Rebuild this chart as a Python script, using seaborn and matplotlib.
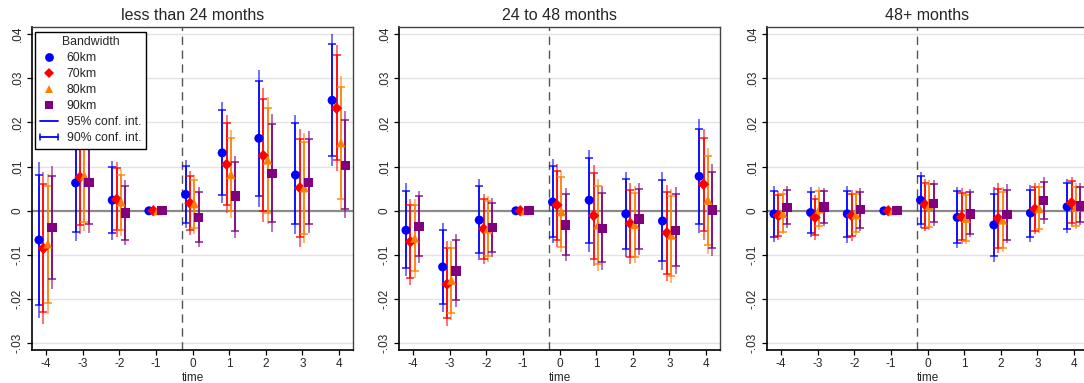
import numpy as np
import pandas as pd
import matplotlib
matplotlib.use("Agg")
import matplotlib.pyplot as plt
import seaborn as sns
from matplotlib.lines import Line2D
from matplotlib.legend_handler import HandlerBase

# ---------------- data ----------------
times = [-4, -3, -2, -1, 0, 1, 2, 3, 4]
bandwidths = ["60km", "70km", "80km", "90km"]
panel_titles = ["less than 24 months", "24 to 48 months", "48+ months"]
ytick_vals = [-0.03, -0.02, -0.01, 0.0, 0.01, 0.02, 0.03, 0.04]

# Panel 1: less than 24 months  (rows: 60km, 70km, 80km, 90km)
lt24_est = [
    [-0.0066, 0.0063, 0.0024, 0, 0.0037, 0.0131, 0.0164, 0.0081, 0.0250],
    [-0.0085, 0.0076, 0.0026, 0, 0.0017, 0.0105, 0.0125, 0.0052, 0.0232],
    [-0.0075, 0.0079, 0.0020, 0, 0.0016, 0.0082, 0.0115, 0.0052, 0.0154],
    [-0.0038, 0.0064, -0.0005, 0, -0.0015, 0.0033, 0.0085, 0.0064, 0.0102],
]
lt24_hi95 = [
    [0.0111, 0.0195, 0.0112, 0, 0.0115, 0.0246, 0.0318, 0.0217, 0.0401],
    [0.0087, 0.0205, 0.0110, 0, 0.0089, 0.0217, 0.0277, 0.0184, 0.0375],
    [0.0083, 0.0204, 0.0094, 0, 0.0081, 0.0182, 0.0257, 0.0175, 0.0305],
    [0.0102, 0.0179, 0.0069, 0, 0.0054, 0.0125, 0.0218, 0.0180, 0.0226],
]
lt24_lo95 = [
    [-0.0243, -0.0069, -0.0065, 0, -0.0040, 0.0017, 0.0009, -0.0053, 0.0101],
    [-0.0256, -0.0053, -0.0059, 0, -0.0055, -0.0005, -0.0025, -0.0081, 0.0090],
    [-0.0234, -0.0046, -0.0057, 0, -0.0052, -0.0017, -0.0029, -0.0074, 0.0002],
    [-0.0178, -0.0051, -0.0078, 0, -0.0081, -0.0061, -0.0047, -0.0050, -0.0017],
]
lt24_hi90 = [
    [0.0082, 0.0174, 0.0098, 0, 0.0102, 0.0227, 0.0293, 0.0198, 0.0377],
    [0.0060, 0.0184, 0.0097, 0, 0.0079, 0.0198, 0.0253, 0.0163, 0.0352],
    [0.0057, 0.0183, 0.0082, 0, 0.0069, 0.0165, 0.0232, 0.0155, 0.0281],
    [0.0079, 0.0159, 0.0057, 0, 0.0042, 0.0110, 0.0197, 0.0162, 0.0205],
]
lt24_lo90 = [
    [-0.0214, -0.0048, -0.0050, 0, -0.0027, 0.0036, 0.0034, -0.0031, 0.0124],
    [-0.0228, -0.0032, -0.0044, 0, -0.0044, 0.0014, -0.0001, -0.0060, 0.0114],
    [-0.0208, -0.0025, -0.0044, 0, -0.0040, 0.0000, -0.0006, -0.0053, 0.0026],
    [-0.0155, -0.0031, -0.0066, 0, -0.0071, -0.0045, -0.0026, -0.0031, 0.0003],
]

# Panel 2: 24 to 48 months
m2448_est = [
    [-0.0044, -0.0127, -0.0021, 0, 0.0020, 0.0024, -0.0007, -0.0023, 0.0078],
    [-0.0070, -0.0166, -0.0041, 0, 0.0013, -0.0011, -0.0029, -0.0050, 0.0060],
    [-0.0062, -0.0157, -0.0041, 0, -0.0002, -0.0032, -0.0031, -0.0055, 0.0024],
    [-0.0035, -0.0136, -0.0038, 0, -0.0032, -0.0040, -0.0019, -0.0045, 0.0002],
]
m2448_hi95 = [
    [0.0062, -0.0027, 0.0071, 0, 0.0117, 0.0137, 0.0088, 0.0088, 0.0207],
    [0.0027, -0.0069, 0.0039, 0, 0.0105, 0.0103, 0.0063, 0.0058, 0.0185],
    [0.0026, -0.0069, 0.0034, 0, 0.0090, 0.0073, 0.0056, 0.0050, 0.0143],
    [0.0045, -0.0053, 0.0028, 0, 0.0051, 0.0057, 0.0063, 0.0054, 0.0105],
]
m2448_lo95 = [
    [-0.0148, -0.0228, -0.0112, 0, -0.0074, -0.0093, -0.0104, -0.0133, -0.0050],
    [-0.0168, -0.0260, -0.0121, 0, -0.0081, -0.0125, -0.0121, -0.0159, -0.0066],
    [-0.0151, -0.0247, -0.0116, 0, -0.0093, -0.0136, -0.0118, -0.0164, -0.0098],
    [-0.0118, -0.0217, -0.0105, 0, -0.0114, -0.0133, -0.0100, -0.0142, -0.0102],
]
m2448_hi90 = [
    [0.0045, -0.0044, 0.0056, 0, 0.0102, 0.0120, 0.0073, 0.0069, 0.0185],
    [0.0012, -0.0085, 0.0026, 0, 0.0090, 0.0085, 0.0048, 0.0042, 0.0165],
    [0.0013, -0.0085, 0.0022, 0, 0.0076, 0.0057, 0.0041, 0.0034, 0.0124],
    [0.0033, -0.0065, 0.0018, 0, 0.0038, 0.0041, 0.0049, 0.0038, 0.0088],
]
m2448_lo90 = [
    [-0.0130, -0.0211, -0.0096, 0, -0.0060, -0.0074, -0.0087, -0.0114, -0.0029],
    [-0.0151, -0.0243, -0.0108, 0, -0.0065, -0.0108, -0.0105, -0.0142, -0.0046],
    [-0.0136, -0.0232, -0.0102, 0, -0.0081, -0.0121, -0.0105, -0.0147, -0.0078],
    [-0.0103, -0.0202, -0.0093, 0, -0.0100, -0.0117, -0.0087, -0.0125, -0.0085],
]

# Panel 3: 48+ months
m48_est = [
    [-0.0007, -0.0004, -0.0007, 0, 0.0024, -0.0015, -0.0032, -0.0005, 0.0009],
    [-0.0011, -0.0015, -0.0011, 0, 0.0014, -0.0014, -0.0017, 0.0004, 0.0018],
    [-0.0006, 0.0004, -0.0009, 0, 0.0012, -0.0017, -0.0021, 0.0005, 0.0008],
    [0.0008, 0.0009, 0.0003, 0, 0.0017, -0.0007, -0.0008, 0.0023, 0.0011],
]
m48_hi95 = [
    [0.0056, 0.0053, 0.0057, 0, 0.0088, 0.0054, 0.0053, 0.0058, 0.0071],
    [0.0045, 0.0036, 0.0048, 0, 0.0073, 0.0051, 0.0062, 0.0062, 0.0077],
    [0.0045, 0.0053, 0.0047, 0, 0.0069, 0.0045, 0.0054, 0.0062, 0.0062],
    [0.0056, 0.0051, 0.0051, 0, 0.0069, 0.0050, 0.0060, 0.0077, 0.0062],
]
m48_lo95 = [
    [-0.0070, -0.0060, -0.0072, 0, -0.0040, -0.0085, -0.0115, -0.0070, -0.0051],
    [-0.0066, -0.0065, -0.0068, 0, -0.0045, -0.0076, -0.0096, -0.0053, -0.0036],
    [-0.0053, -0.0044, -0.0055, 0, -0.0044, -0.0076, -0.0094, -0.0050, -0.0041],
    [-0.0038, -0.0034, -0.0045, 0, -0.0035, -0.0060, -0.0074, -0.0029, -0.0032],
]
m48_hi90 = [
    [0.0045, 0.0042, 0.0045, 0, 0.0079, 0.0044, 0.0039, 0.0047, 0.0062],
    [0.0036, 0.0026, 0.0039, 0, 0.0064, 0.0041, 0.0049, 0.0053, 0.0067],
    [0.0037, 0.0044, 0.0038, 0, 0.0060, 0.0036, 0.0043, 0.0053, 0.0053],
    [0.0047, 0.0044, 0.0043, 0, 0.0060, 0.0042, 0.0048, 0.0066, 0.0054],
]
m48_lo90 = [
    [-0.0060, -0.0051, -0.0060, 0, -0.0029, -0.0072, -0.0102, -0.0059, -0.0041],
    [-0.0057, -0.0055, -0.0058, 0, -0.0038, -0.0066, -0.0085, -0.0045, -0.0027],
    [-0.0047, -0.0034, -0.0047, 0, -0.0036, -0.0069, -0.0084, -0.0042, -0.0034],
    [-0.0029, -0.0027, -0.0038, 0, -0.0026, -0.0053, -0.0065, -0.0019, -0.0025],
]

# ---------------- style ----------------
colors = {"60km": "#0000FF", "70km": "#FF0000", "80km": "#FF8000", "90km": "#800080"}
markers = {"60km": "o", "70km": "D", "80km": "^", "90km": "s"}
msizes = {"60km": 42, "70km": 34, "80km": 44, "90km": 46}
offsets = {"60km": -0.19, "70km": -0.07, "80km": 0.05, "90km": 0.17}

sns.set_style("white")
plt.rcParams["font.family"] = ["Liberation Sans", "DejaVu Sans"]

panels = [
    (lt24_est, lt24_lo95, lt24_hi95, lt24_lo90, lt24_hi90),
    (m2448_est, m2448_lo95, m2448_hi95, m2448_lo90, m2448_hi90),
    (m48_est, m48_lo95, m48_hi95, m48_lo90, m48_hi90),
]

W, H = 1084, 383
fig = plt.figure(figsize=(W / 100, H / 100), dpi=100)
lefts = [32, 399, 767]
axw, bot, axh = 321, 33, 323.5


def fmt(v):
    if abs(v) < 1e-12:
        return "0"
    return f"{v:.2f}".replace("0.", ".")


for pi, (est, lo95, hi95, lo90, hi90) in enumerate(panels):
    ax = fig.add_axes([lefts[pi] / W, bot / H, axw / W, axh / H])
    rows = []
    for bi, bw in enumerate(bandwidths):
        for ti, t in enumerate(times):
            rows.append(dict(time=t, x=t + offsets[bw], bw=bw, est=est[bi][ti],
                             lo95=lo95[bi][ti], hi95=hi95[bi][ti],
                             lo90=lo90[bi][ti], hi90=hi90[bi][ti]))
    df = pd.DataFrame(rows)

    # grid + reference lines
    for v in ytick_vals:
        if v != 0:
            ax.axhline(v, color="#e3e3e3", lw=1.0, zorder=0)
    ax.axhline(0, color="#8a8a8a", lw=1.6, zorder=1)
    ax.axvline(-0.3, color="#555555", lw=1.0, dashes=(6, 4), zorder=1)

    for bw in bandwidths:
        d = df[df.bw == bw]
        c = colors[bw]
        ax.vlines(d.x, d.lo95, d.hi95, color=c, lw=1.3, alpha=0.6, zorder=2)
        ax.errorbar(d.x, (d.lo90 + d.hi90) / 2,
                    yerr=[(d.hi90 - d.lo90) / 2, (d.hi90 - d.lo90) / 2],
                    fmt="none", ecolor=c, elinewidth=1.3, capsize=3.0,
                    capthick=1.1, alpha=0.9, zorder=3)

    sns.scatterplot(data=df, x="x", y="est", hue="bw", style="bw", size="bw",
                    palette=colors, markers=markers, sizes=msizes,
                    hue_order=bandwidths, style_order=bandwidths, size_order=bandwidths,
                    linewidth=0, legend=False, ax=ax, zorder=5)

    ax.set_xlim(-4.38, 4.38)
    ax.set_ylim(-0.0315, 0.0417)
    ax.set_xticks(times)
    ax.set_xticklabels([str(t) for t in times], fontsize=8.5)
    ax.set_yticks(ytick_vals)
    ax.set_yticklabels([fmt(v) for v in ytick_vals], fontsize=8.5,
                       rotation=90, va="center")
    ax.tick_params(axis="both", direction="out", length=3.5, width=0.9,
                   color="black", pad=2.5, left=True, bottom=True)
    ax.set_xlabel("time", fontsize=8.5, labelpad=1)
    ax.set_ylabel("")
    ax.set_title(panel_titles[pi], fontsize=11.5, pad=5)
    for s in ["left", "bottom"]:
        ax.spines[s].set_color("black")
        ax.spines[s].set_linewidth(1.2)
    for s in ["top", "right"]:
        ax.spines[s].set_color("#444444")
        ax.spines[s].set_linewidth(1.0)

    if pi == 0:
        class CapHandler(HandlerBase):
            def create_artists(self, legend, orig_handle, xdescent, ydescent,
                               width, height, fontsize, trans):
                y = height / 2 - ydescent
                x0, x1 = -xdescent, width - xdescent
                h = height * 0.35
                arts = [Line2D([x0, x1], [y, y], color="#0000FF", lw=1.3),
                        Line2D([x0, x0], [y - h, y + h], color="#0000FF", lw=1.1),
                        Line2D([x1, x1], [y - h, y + h], color="#0000FF", lw=1.1)]
                for a in arts:
                    a.set_transform(trans)
                return arts

        class CapProxy:
            pass

        handles = [Line2D([], [], ls="", marker=markers[b], color=colors[b],
                          markersize=6.3 if b != "70km" else 5.6, markeredgewidth=0)
                   for b in bandwidths]
        handles.append(Line2D([], [], color="#0000FF", lw=1.3))
        cp = CapProxy()
        handles.append(cp)
        labels = bandwidths + ["95% conf. int.", "90% conf. int."]
        leg = ax.legend(handles, labels, title="Bandwidth", loc="upper left",
                        bbox_to_anchor=(0.002, 0.992), fontsize=8.8,
                        title_fontsize=8.8, frameon=True, fancybox=False,
                        edgecolor="black", framealpha=1, borderpad=0.4,
                        labelspacing=0.32, handlelength=1.45, handletextpad=0.75,
                        borderaxespad=0.2, handler_map={CapProxy: CapHandler()})
        leg.get_frame().set_linewidth(1.0)
        leg.set_zorder(10)

fig.savefig("out.png", dpi=100)
